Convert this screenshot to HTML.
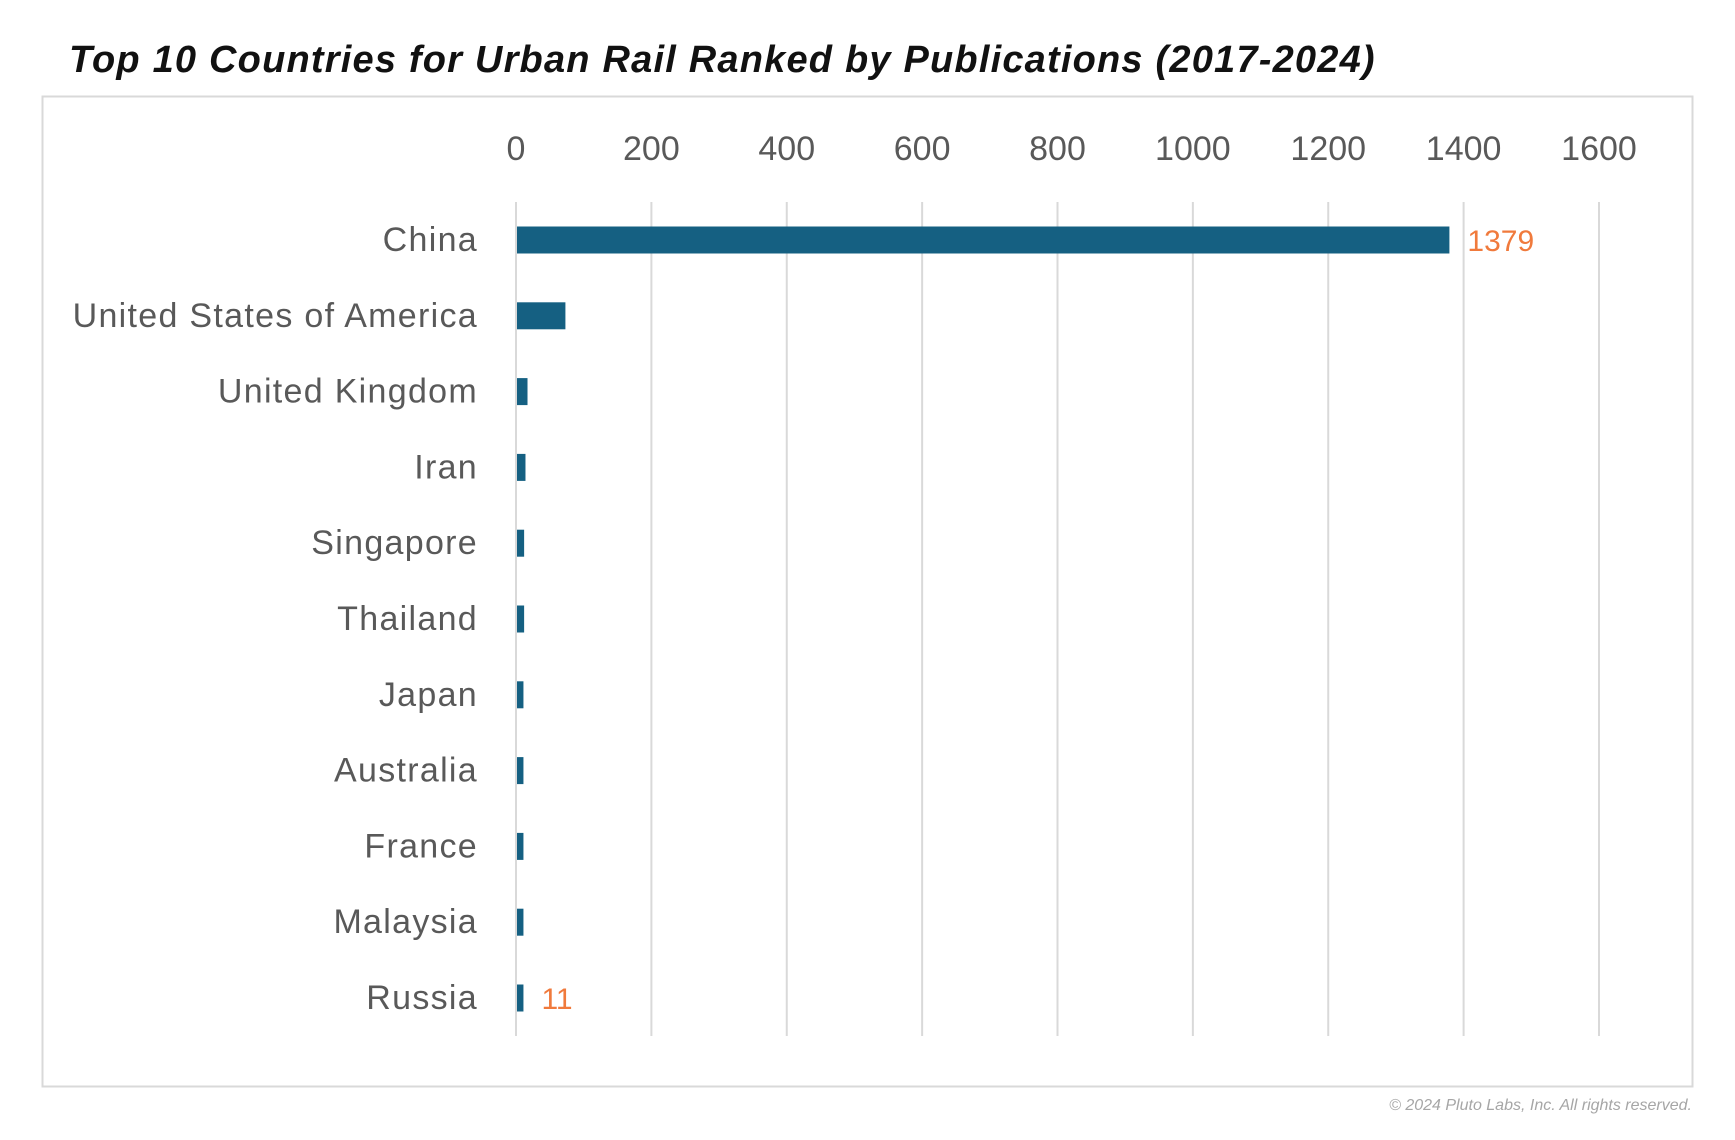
<!DOCTYPE html>
<html><head><meta charset="utf-8"><style>
html,body{margin:0;padding:0;background:#fff;}
svg{display:block;font-family:"Liberation Sans",sans-serif;}
</style></head><body>
<svg id="chart" width="1735" height="1140" viewBox="0 0 1735 1140">
<text x="69" y="72" font-size="38" font-weight="bold" font-style="italic" letter-spacing="1.2" fill="#111">Top 10 Countries for Urban Rail Ranked by Publications (2017-2024)</text>
<rect x="42.5" y="96.5" width="1650" height="990" fill="none" stroke="#d9d9d9" stroke-width="2"/>
<g id="grid"></g><g id="xticks"></g><g id="bars"></g><g id="cats"></g><g id="vals"></g>
<text x="1692" y="1110" font-size="16" font-style="italic" fill="#a6a6a6" text-anchor="end">© 2024 Pluto Labs, Inc. All rights reserved.</text>
</svg>
<script>
const categories = ["China","United States of America","United Kingdom","Iran","Singapore","Thailand","Japan","Australia","France","Malaysia","Russia"];
const values = [1379,73,17,14,12,12,11,11,11,11,11];
const tickValues = [0,200,400,600,800,1000,1200,1400,1600];
const labeledIdx = [0,10];
const NS="http://www.w3.org/2000/svg";
const x0=516, x1=1599, xMax=1600;
const xs=v=>x0+(v/xMax)*(x1-x0);
const yTop=202, yBot=1036, row0=240, rowStep=75.8;
const ys=i=>row0+i*rowStep;
function mk(tag,attrs,parent){const e=document.createElementNS(NS,tag);for(const k in attrs)e.setAttribute(k,attrs[k]);document.getElementById(parent).appendChild(e);return e;}
tickValues.forEach(t=>{
  const l=mk("line",{x1:xs(t),x2:xs(t),y1:yTop,y2:yBot,stroke:"#d9d9d9","stroke-width":2},"grid");
  
  
  const tx=mk("text",{x:xs(t),y:160,"font-size":34,fill:"#595959","text-anchor":"middle"},"xticks");
  tx.textContent=t;
  
  
});
categories.forEach((c,i)=>{
  const h=27;
  const r=mk("rect",{x:xs(0)+1,y:ys(i)-h/2,width:Math.max(0,xs(values[i])-xs(0)-1),height:h,fill:"#156082"},"bars");
  
  
  const t=mk("text",{x:478,y:ys(i)+11,"font-size":34,"letter-spacing":1.3,fill:"#595959","text-anchor":"end"},"cats");
  t.textContent=c;
  
  
});
labeledIdx.forEach(i=>{
  const t=mk("text",{x:xs(values[i])+18,y:ys(i)+11,"font-size":30,fill:"#f07a3c"},"vals");
  t.textContent=values[i];
  
  
});
</script>
</body></html>
